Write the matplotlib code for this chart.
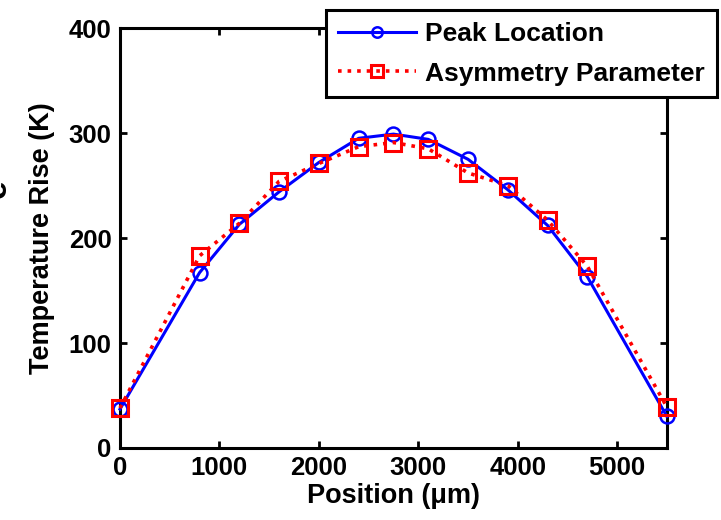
import numpy as np
import matplotlib.pyplot as plt

plt.rcParams['font.family'] = ['Liberation Sans', 'DejaVu Sans']
plt.rcParams['font.weight'] = 'bold'

# positions along the sample (um) and the two temperature estimates (K)
position = [0, 800, 1200, 1600, 2000, 2400, 2750, 3100, 3500, 3900, 4300, 4700, 5500]
peak_location = [37, 167, 213, 244, 272, 295, 299, 294, 275, 246, 212, 163, 30]
asymmetry = [38, 183, 214, 254, 271, 287, 291, 285, 262, 250, 217, 173, 39]

fig = plt.figure(figsize=(7.21, 5.2), dpi=100)
ax = fig.add_axes([0.1664, 0.1385, 0.7586, 0.8075])

ax.plot(position, peak_location, '-o', color='#0000ff', lw=2.2, ms=10,
        mfc='none', mew=1.8, label='Peak Location', clip_on=False, zorder=3)
ax.plot(position, asymmetry, ':s', color='#ff0000', lw=2.6, ms=11,
        mfc='none', mew=2.2, label='Asymmetry Parameter', clip_on=False, zorder=3)

ax.set_xlim(0, 5500)
ax.set_ylim(0, 400)
ax.set_xticks(np.arange(0, 5001, 1000))
ax.set_yticks(np.arange(0, 401, 100))
ax.tick_params(direction='in', length=5, width=2, labelsize=18.5,
               top=True, right=True, pad=6)
for lab in ax.get_xticklabels() + ax.get_yticklabels():
    lab.set_fontweight('bold')
for sp in ax.spines.values():
    sp.set_linewidth(2.2)

ax.set_xlabel('Position (\u03bcm)', fontsize=19.5, fontweight='bold', labelpad=2)
ax.set_ylabel('Temperature Rise (K)', fontsize=19.5, fontweight='bold', labelpad=10)

# leftover glyph at the page edge
fig.text(-0.004, 1 - 189 / 520, 'e', rotation=90, ha='center', va='center',
         fontsize=24, fontweight='bold')

leg = ax.legend(loc='upper right', bbox_to_anchor=(0.994, 0.981),
                bbox_transform=fig.transFigure, fontsize=19, frameon=True,
                fancybox=False, borderpad=0.45, handlelength=2.95,
                handletextpad=0.35, labelspacing=0.6, borderaxespad=0,
                markerscale=0.75)
leg.get_frame().set_edgecolor('black')
leg.get_frame().set_linewidth(2.2)
leg.get_frame().set_alpha(1)
leg.set_zorder(5)

fig.savefig('out.png', dpi=100)
